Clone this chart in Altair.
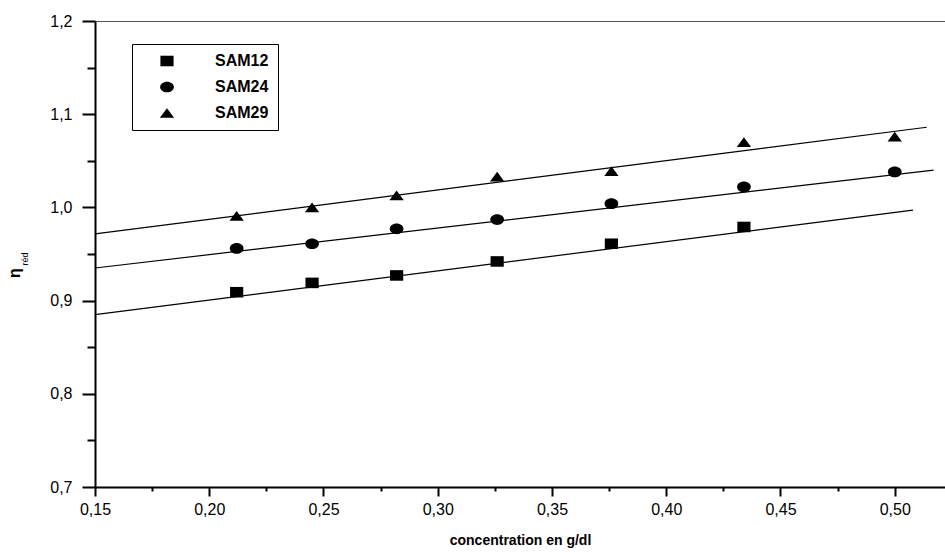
import altair as alt
import pandas as pd

# ---- data ----
conc = [0.212, 0.245, 0.282, 0.326, 0.376, 0.434, 0.500]
sam12 = [0.909, 0.919, 0.927, 0.942, 0.961, 0.979]
sam24 = [0.956, 0.961, 0.977, 0.987, 1.004, 1.022, 1.038]
sam29 = [0.991, 1.000, 1.013, 1.033, 1.039, 1.070, 1.076]
series = ["SAM12", "SAM24", "SAM29"]
# slightly wide marker glyphs, as in the reference
shapes = [
    "M-1,-0.8L1,-0.8L1,0.8L-1,0.8Z",
    "M-1,0A1,0.78 0 1,1 1,0A1,0.78 0 1,1 -1,0Z",
    "M0,-0.68L1,0.68L-1,0.68Z",
]
marker_sizes = [174, 205, 250]

# fitted straight lines: start/end points
fit_x0 = [0.15, 0.15, 0.15]
fit_x1 = [0.508, 0.517, 0.514]
fit_y0 = [0.885, 0.935, 0.9715]
fit_y1 = [0.997, 1.040, 1.086]

x_major = [0.15, 0.20, 0.25, 0.30, 0.35, 0.40, 0.45, 0.50]
x_minor = [0.175, 0.225, 0.275, 0.325, 0.375, 0.425, 0.475]
y_major = [0.7, 0.8, 0.9, 1.0, 1.1, 1.2]
y_minor = [0.75, 0.85, 0.95, 1.05, 1.15]

x_title = "concentration en g/dl"
y_title = ["η"]
y_sub = ["réd"]

FONT = "Liberation Sans"

rows = []
for name, vals in zip(series, [sam12, sam24, sam29]):
    for c, v in zip(conc, vals):
        rows.append({"s": name, "c": c, "v": v})
pts = pd.DataFrame(rows)

frows = []
for name, a, b, ya, yb in zip(series, fit_x0, fit_x1, fit_y0, fit_y1):
    frows.append({"s": name, "c": a, "v": ya})
    frows.append({"s": name, "c": b, "v": yb})
fit = pd.DataFrame(frows)

xscale = alt.Scale(domain=[0.15, 0.522], nice=False, zero=False)
yscale = alt.Scale(domain=[0.7, 1.2], nice=False, zero=False)

xaxis = alt.Axis(
    orient="bottom",
    values=x_major,
    labelExpr="replace(format(datum.value, '.2f'), '.', ',')",
    tickSize=9, tickColor="black", tickWidth=2,
    domainColor="black", domainWidth=2,
    labelFont=FONT, labelFontSize=16, labelColor="black", labelPadding=5,
    labelFlush=False, labelOverlap=False,
    title=x_title, titleFont=FONT, titleFontSize=14, titleFontWeight="bold",
    titleColor="black", titlePadding=16, grid=False,
)
yaxis = alt.Axis(
    orient="left",
    values=y_major,
    labelExpr="replace(format(datum.value, '.1f'), '.', ',')",
    tickSize=13, tickColor="black", tickWidth=2,
    domainColor="black", domainWidth=2,
    labelFont=FONT, labelFontSize=16, labelColor="black", labelPadding=10,
    labelFlush=False, labelOverlap=False,
    title=None, grid=False,
)
xminor = alt.Axis(orient="bottom", values=x_minor, labels=False, tickSize=4,
                  tickColor="black", tickWidth=2, domain=False, title=None, grid=False)
yminor = alt.Axis(orient="left", values=y_minor, labels=False, tickSize=8,
                  tickColor="black", tickWidth=2, domain=False, title=None, grid=False)
topaxis = alt.Axis(orient="top", domain=True, domainColor="#555555", domainWidth=1,
                   ticks=False, labels=False, title=None, grid=False)

lines = alt.Chart(fit).mark_line(color="black", strokeWidth=1.2).encode(
    x=alt.X("c:Q", scale=xscale, axis=topaxis),
    y=alt.Y("v:Q", scale=yscale, axis=None),
    detail="s:N",
)

minor = alt.Chart(pts).mark_point(opacity=0).encode(
    x=alt.X("c:Q", scale=xscale, axis=xminor),
    y=alt.Y("v:Q", scale=yscale, axis=yminor),
)

legend = alt.Legend(
    title=None, orient="none", legendX=37, legendY=23,
    strokeColor="black", fillColor="white", padding=9,
    labelFont=FONT, labelFontSize=16, labelFontWeight="bold", labelColor="black",
    symbolFillColor="black", symbolStrokeColor="black", symbolOpacity=1,
    symbolStrokeWidth=0,
    symbolOffset=18, labelOffset=40, rowPadding=10,
)

points = alt.Chart(pts).mark_point(filled=True, color="black", opacity=1, strokeWidth=0).encode(
    x=alt.X("c:Q", scale=xscale, axis=xaxis),
    y=alt.Y("v:Q", scale=yscale, axis=yaxis),
    shape=alt.Shape("s:N", scale=alt.Scale(domain=series, range=shapes), legend=legend),
    size=alt.Size("s:N", scale=alt.Scale(domain=series, range=marker_sizes), legend=legend),
)

eta = alt.Chart(pd.DataFrame({"t": y_title})).mark_text(
    angle=270, font=FONT, fontSize=16, fontWeight="bold", color="black",
    align="center", baseline="alphabetic",
).encode(text="t:N", x=alt.value(-75), y=alt.value(252))

sub = alt.Chart(pd.DataFrame({"t": y_sub})).mark_text(
    angle=270, font=FONT, fontSize=9, color="black",
    align="center", baseline="alphabetic",
).encode(text="t:N", x=alt.value(-67), y=alt.value(238))

chart = alt.layer(lines, minor, points, eta, sub).resolve_axis(
    x="independent", y="independent"
).properties(
    width=850, height=466,
    autosize=alt.AutoSizeParams(type="none"),
    padding={"left": 95, "top": 21, "right": 0, "bottom": 66},
).configure_view(stroke=None).configure(background="white")

chart.save("out.html", embed_options={"renderer": "svg", "actions": False})
